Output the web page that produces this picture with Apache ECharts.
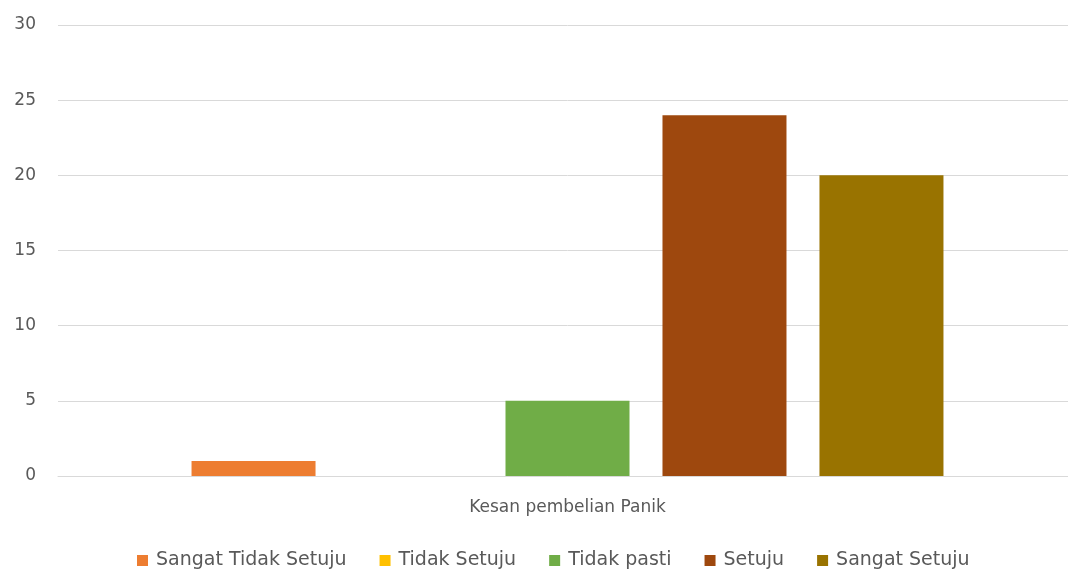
<!DOCTYPE html>
<html>
<head>
<meta charset="utf-8">
<script src="https://cdn.jsdelivr.net/npm/echarts@6/dist/echarts.min.js"></script>
<style>
  html, body { margin: 0; padding: 0; background: #ffffff; overflow: hidden; }
  #chart { width: 1077px; height: 571px; }
</style>
</head>
<body>
<div id="chart"></div>
<script>
// Survey responses for a single statement
const categories = ['Kesan pembelian Panik'];
const seriesNames = ['Sangat Tidak Setuju', 'Tidak Setuju', 'Tidak pasti', 'Setuju', 'Sangat Setuju'];
const seriesValues = [1, 0, 5, 24, 20];
const seriesColors = ['#ED7D31', '#FFC000', '#70AD47', '#9E480E', '#997300'];
const yTicks = { min: 0, max: 30, interval: 5 };

const fontFamily = '"DejaVu Sans", "Open Sans", sans-serif';
const textColor = '#595959';
const gridColor = '#D9D9D9';

const series = seriesNames.map((name, i) => ({
  name: name,
  type: 'bar',
  data: [seriesValues[i]],
  barWidth: 124,
  barGap: '26.6%',
  itemStyle: { color: seriesColors[i] }
}));

const chart = echarts.init(document.getElementById('chart'));
chart.setOption({
  animation: false,
  textStyle: { fontFamily: fontFamily },
  grid: { left: 58, right: 0, top: 25, bottom: 95, containLabel: false },
  legend: {
    data: seriesNames,
    top: 551,
    left: 132,
    padding: [0, 5, 0, 5],
    itemWidth: 11,
    itemHeight: 11,
    itemGap: 33,
    icon: 'rect',
    textStyle: { color: textColor, fontSize: 19, fontFamily: fontFamily, padding: [0, 0, 0, 3] }
  },
  xAxis: {
    type: 'category',
    data: categories,
    axisLine: { show: true, lineStyle: { color: gridColor, width: 1 } },
    axisTick: { show: false },
    axisLabel: { color: textColor, fontSize: 17, margin: 23 }
  },
  yAxis: {
    type: 'value',
    min: yTicks.min,
    max: yTicks.max,
    interval: yTicks.interval,
    axisLine: { show: false },
    axisTick: { show: false },
    axisLabel: { color: textColor, fontSize: 17, margin: 22 },
    splitLine: { lineStyle: { color: gridColor, width: 1 } }
  },
  series: series
});
</script>
</body>
</html>
